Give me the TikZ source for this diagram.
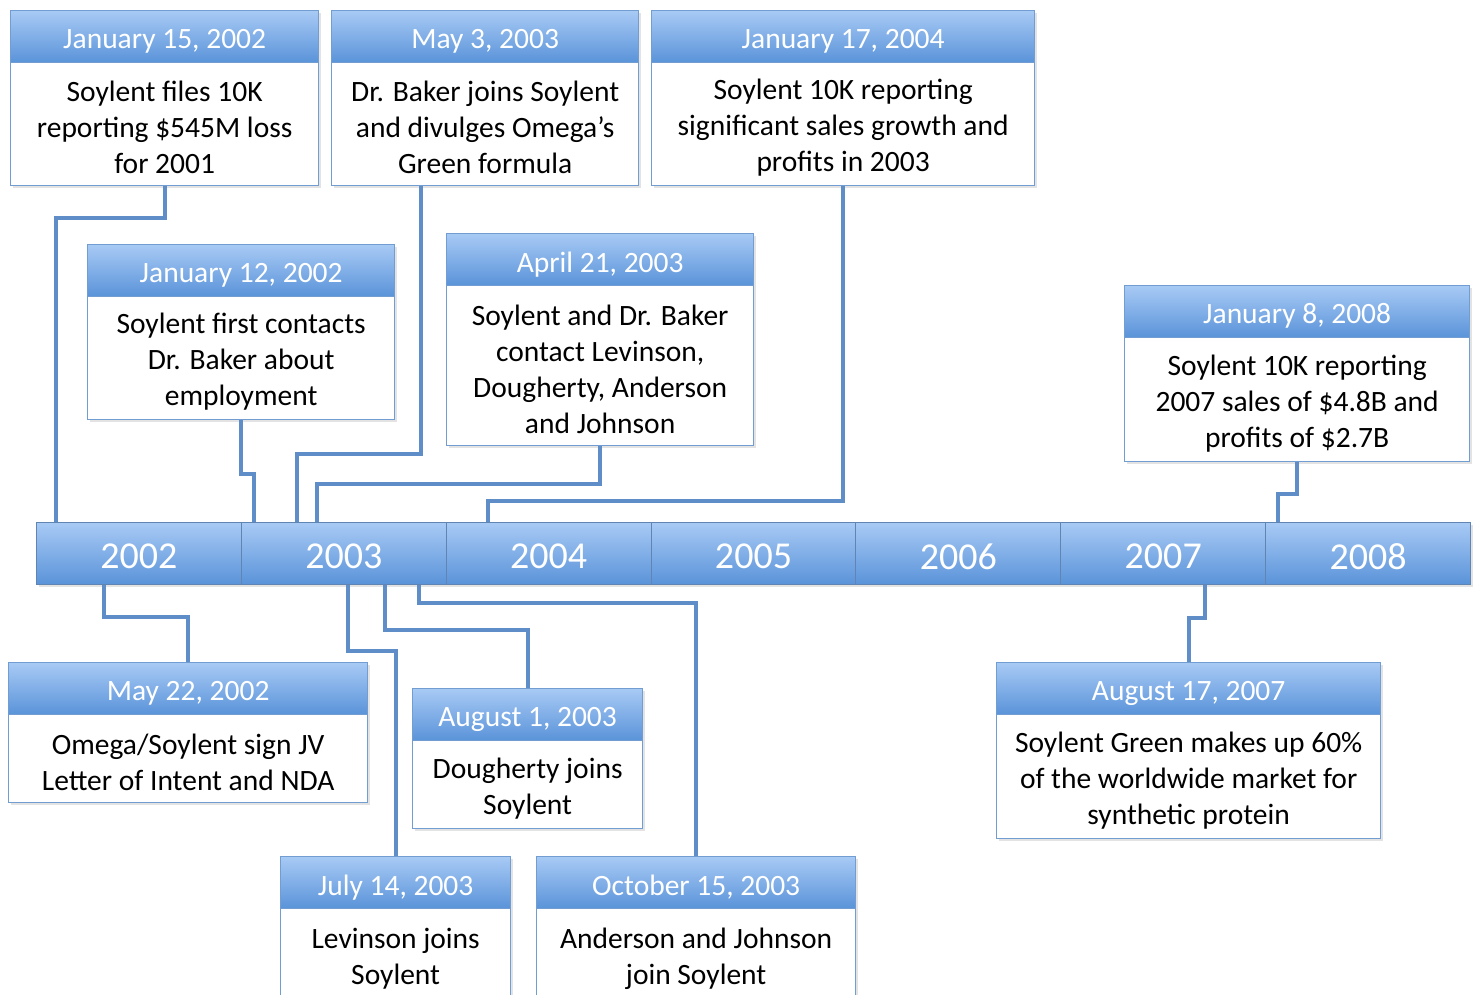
\documentclass[tikz,border=0pt]{standalone}
\usepackage{fontspec}
\setmainfont{Carlito}
\usetikzlibrary{shadows}
\definecolor{hdtop}{HTML}{A8CAF5}
\definecolor{hdbot}{HTML}{5A93D9}
\definecolor{edgeblue}{HTML}{719DD2}
\definecolor{connblue}{HTML}{5E8DC8}
\newcommand\evbodyfont{\fontsize{29.5}{36}\selectfont}
\newcommand\evheadfont{\fontsize{29.5}{36}\selectfont}
\newcommand\evyearfont{\fontsize{38}{44}\selectfont}
\tikzset{
  evshadow/.style={drop shadow={opacity=0.22, shadow xshift=2pt, shadow yshift=-2.5pt}},
  evhead/.style={draw=edgeblue, line width=1.3pt, top color=hdtop, bottom color=hdbot,
    anchor=north west, minimum height=52pt, inner sep=0pt, evshadow},
  headtext/.style={yshift=-4.5pt, inner sep=0pt, font=\evheadfont, text=white},
  evbody/.style={draw=edgeblue, line width=1.3pt, fill=white, anchor=north west,
    inner sep=0pt, evshadow},
  bodytext/.style={yshift=-3.5pt, inner sep=0pt, align=center, font=\evbodyfont, text=black},
  yearbox/.style={draw=edgeblue!85!black, line width=1pt, top color=hdtop, bottom color=hdbot,
    anchor=north west, minimum height=62pt, minimum width=204.86pt, inner sep=0pt, evshadow},
  yeartext/.style={yshift=-3pt, inner sep=0pt, font=\evyearfont, text=white},
  conn/.style={draw=connblue, line width=4pt}
}
\newcommand\evnt[7]{%
  \node[evhead, minimum width={#4-#2}, label={[headtext]center:#6}] (#1h) at (#2,#3) {};
  \node[evbody, minimum width={#4-#2}, minimum height={#5-#3-52}, label={[bodytext]center:#7}] (#1) at (#2,#3+52) {};
}
\newcommand\yr[3]{%
  \node[yearbox, label={[yeartext]center:#3}] (#1) at (#2,522) {};
}
\begin{document}
\begin{tikzpicture}[x=1pt,y=-1pt]
\useasboundingbox (0,0) rectangle (1476,995);
% timeline
\yr{y2002}{36}{2002}
\yr{y2003}{240.86}{2003}
\yr{y2004}{445.71}{2004}
\yr{y2005}{650.57}{2005}
\yr{y2006}{855.43}{2006}
\yr{y2007}{1060.29}{2007}
\yr{y2008}{1265.14}{2008}
% events
\evnt{jan15}{10}{10}{318}{185}{January 15, 2002}{Soylent files 10K\\reporting \$545M loss\\for 2001}
\evnt{may3}{331}{10}{638}{185}{May 3, 2003}{Dr. Baker joins Soylent\\and divulges Omega’s\\Green formula}
\evnt{jan17}{651}{10}{1034}{185}{January 17, 2004}{Soylent 10K reporting\\significant sales growth and\\profits in 2003}
\evnt{jan12}{87}{244}{394}{419}{January 12, 2002}{Soylent first contacts\\Dr. Baker about\\employment}
\evnt{apr21}{446}{233}{753}{445}{April 21, 2003}{Soylent and Dr. Baker\\contact Levinson,\\Dougherty, Anderson\\and Johnson}
\evnt{jan8}{1124}{285}{1469}{461}{January 8, 2008}{Soylent 10K reporting\\2007 sales of \$4.8B and\\profits of \$2.7B}
\evnt{may22}{8}{662}{367}{802}{May 22, 2002}{Omega/Soylent sign JV\\Letter of Intent and NDA}
\evnt{aug1}{412}{688}{642}{828}{August 1, 2003}{Dougherty joins\\Soylent}
\evnt{aug17}{996}{662}{1380}{838}{August 17, 2007}{Soylent Green makes up 60\%\\of the worldwide market for\\synthetic protein}
\evnt{jul14}{280}{856}{510}{1002}{July 14, 2003}{Levinson joins\\Soylent}
\evnt{oct15}{536}{856}{855}{1002}{October 15, 2003}{Anderson and Johnson\\join Soylent}
% connectors above timeline
\draw[conn] (jan15.south) -- ++(0,32) -| ([xshift=20pt]y2002.north west);
\draw[conn] ([xshift=-64.5pt]may3.south) -- ++(0,268) -| ([xshift=56pt]y2003.north west);
\draw[conn] (jan17.south) -- ++(0,315) -| ([xshift=42pt]y2004.north west);
\draw[conn] (jan12.south) -- ++(0,54) -| ([xshift=13pt]y2003.north west);
\draw[conn] (apr21.south) -- ++(0,38) -| ([xshift=76pt]y2003.north west);
\draw[conn] (jan8.south) -- ++(0,32) -| ([xshift=13pt]y2008.north west);
% connectors below timeline
\draw[conn] ([xshift=68pt]y2002.south west) -- ++(0,32) -| (may22h.north);
\draw[conn] ([xshift=144pt]y2003.south west) -- ++(0,45) -| (aug1h.north);
\draw[conn] ([xshift=107pt]y2003.south west) -- ++(0,66) -| (jul14h.north);
\draw[conn] ([xshift=178pt]y2003.south west) -- ++(0,18) -| (oct15h.north);
\draw[conn] ([xshift=145pt]y2007.south west) -- ++(0,33) -| (aug17h.north);
\end{tikzpicture}
\end{document}
